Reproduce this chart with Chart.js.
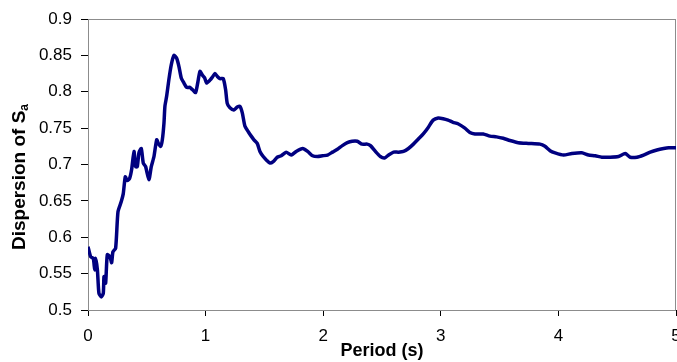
<!DOCTYPE html>
<html>
<head>
<meta charset="utf-8">
<script src="https://cdn.jsdelivr.net/npm/chart.js@4"></script>
<style>
  body { margin: 0; background: #fff; }
  canvas { display: block; }
</style>
</head>
<body>
<canvas id="myChart" width="677" height="362"></canvas>
<script>
// period (s) and dispersion values
const periods = [0.00, 0.023, 0.045, 0.057, 0.065, 0.08, 0.093, 0.113, 0.13, 0.136, 0.15, 0.164, 0.187, 0.201, 0.212, 0.235,
  0.255, 0.283, 0.30, 0.317, 0.334, 0.354, 0.371, 0.391, 0.405, 0.419, 0.433, 0.453, 0.47, 0.49, 0.518, 0.538, 0.561,
  0.584, 0.598, 0.618, 0.632, 0.646, 0.654, 0.669, 0.688, 0.708, 0.731, 0.754, 0.773, 0.793, 0.816, 0.839, 0.867,
  0.887, 0.915, 0.935, 0.952, 0.972, 0.992, 1.008, 1.037, 1.057, 1.08, 1.10, 1.122, 1.15, 1.17, 1.184, 1.207, 1.241,
  1.269, 1.292, 1.312, 1.334, 1.363, 1.388, 1.411, 1.439, 1.462, 1.49, 1.518, 1.547, 1.575, 1.609, 1.643, 1.685,
  1.728, 1.77, 1.826, 1.868, 1.91, 1.952, 1.994, 2.037, 2.079, 2.121, 2.163, 2.205, 2.247, 2.289, 2.331, 2.374,
  2.402, 2.444, 2.486, 2.522, 2.556, 2.598, 2.64, 2.683, 2.725, 2.767, 2.809, 2.851, 2.893, 2.935, 2.978, 3.02,
  3.062, 3.104, 3.146, 3.205, 3.247, 3.29, 3.361, 3.418, 3.474, 3.531, 3.588, 3.659, 3.744, 3.844, 3.886, 3.929,
  3.972, 4.043, 4.114, 4.199, 4.256, 4.313, 4.369, 4.44, 4.511, 4.568, 4.611, 4.668, 4.724, 4.781, 4.838, 4.895,
  4.938, 5.0];
const dispersion = [0.587, 0.573, 0.571, 0.555, 0.571, 0.555, 0.523, 0.518, 0.523, 0.546, 0.537, 0.576, 0.573, 0.565, 0.580, 0.585,
  0.635, 0.649, 0.660, 0.683, 0.678, 0.681, 0.693, 0.718, 0.697, 0.697, 0.716, 0.722, 0.702, 0.697, 0.679, 0.697, 0.711,
  0.734, 0.729, 0.725, 0.734, 0.757, 0.780, 0.794, 0.817, 0.837, 0.850, 0.846, 0.835, 0.819, 0.812, 0.806, 0.806,
  0.803, 0.799, 0.814, 0.828, 0.823, 0.819, 0.812, 0.816, 0.820, 0.825, 0.821, 0.818, 0.818, 0.803, 0.784, 0.778, 0.775,
  0.779, 0.780, 0.771, 0.753, 0.745, 0.739, 0.734, 0.729, 0.718, 0.711, 0.706, 0.702, 0.704, 0.710, 0.712, 0.717,
  0.713, 0.718, 0.722, 0.718, 0.712, 0.711, 0.712, 0.713, 0.717, 0.721, 0.726, 0.730, 0.732, 0.732, 0.728, 0.728,
  0.726, 0.718, 0.711, 0.709, 0.713, 0.717, 0.717, 0.718, 0.722, 0.728, 0.735, 0.742, 0.751, 0.761, 0.764, 0.763,
  0.761, 0.758, 0.756, 0.750, 0.744, 0.742, 0.742, 0.739, 0.738, 0.736, 0.733, 0.730, 0.729, 0.728, 0.725, 0.719,
  0.716, 0.713, 0.715, 0.716, 0.713, 0.712, 0.710, 0.710, 0.711, 0.715, 0.710, 0.710, 0.713, 0.717, 0.720, 0.722,
  0.723, 0.723];

const xTicks = [0, 1, 2, 3, 4, 5];
const yTicks = [0.5, 0.55, 0.6, 0.65, 0.7, 0.75, 0.8, 0.85, 0.9];
const yTitle = 'Dispersion of S';
const yTitleSub = 'a';
const xTitle = 'Period (s)';

const FONT = '"Liberation Sans", Arial, sans-serif';

const points = periods.map((p, i) => ({ x: p, y: dispersion[i] }));

// grey frame around plot area (top and right edges show)
const frame = {
  id: 'frame',
  beforeDatasetsDraw(chart) {
    const a = chart.chartArea, ctx = chart.ctx;
    ctx.save();
    ctx.strokeStyle = '#8c8c8c';
    ctx.lineWidth = 1;
    ctx.strokeRect(a.left + 0.5, a.top + 0.5, a.right - a.left - 1, a.bottom - a.top);
    ctx.restore();
  }
};

// y title with subscript
const yTitlePlugin = {
  id: 'yTitlePlugin',
  afterDraw(chart) {
    const ctx = chart.ctx;
    ctx.save();
    ctx.fillStyle = '#000';
    ctx.font = 'bold 19px ' + FONT;
    const w1 = ctx.measureText(yTitle).width;
    ctx.font = 'bold 12px ' + FONT;
    const w2 = ctx.measureText(yTitleSub).width;
    const total = w1 + w2;
    ctx.translate(20, 177);
    ctx.rotate(-Math.PI / 2);
    ctx.textBaseline = 'middle';
    ctx.textAlign = 'left';
    ctx.font = 'bold 19px ' + FONT;
    ctx.fillText(yTitle, -total / 2, 0);
    ctx.font = 'bold 12px ' + FONT;
    ctx.fillText(yTitleSub, -total / 2 + w1, 5);
    ctx.restore();
  }
};

const ctx = document.getElementById('myChart');
const myChart = new Chart(ctx, {
  type: 'line',
  data: {
    datasets: [{
      data: points,
      borderColor: '#000080',
      borderWidth: 3.5,
      pointRadius: 0,
      tension: 0.2,
      fill: false
    }]
  },
  options: {
    responsive: false,
    animation: false,
    events: [],
    layout: { padding: { top: 19, right: 1, left: 0, bottom: 0 } },
    plugins: {
      legend: { display: false },
      tooltip: { enabled: false }
    },
    scales: {
      x: {
        type: 'linear',
        min: 0,
        max: 5,
        afterBuildTicks(scale) { scale.ticks = xTicks.map(v => ({ value: v })); },
        afterFit(scale) { scale.height = 52; scale.paddingLeft = 0; scale.paddingRight = 0; },
        ticks: { color: '#000', font: { family: FONT, size: 17 }, padding: 10, maxRotation: 0 },
        grid: { drawOnChartArea: false, tickLength: 6, color: '#000' },
        border: { display: true, color: '#000', width: 1 },
        title: { display: true, text: xTitle, color: '#000', font: { family: FONT, size: 18, weight: 'bold' }, padding: { top: 0, bottom: 0 } }
      },
      y: {
        min: 0.5,
        max: 0.9,
        afterBuildTicks(scale) { scale.ticks = yTicks.map(v => ({ value: v })); },
        afterFit(scale) { scale.width = 88; scale.paddingTop = 0; scale.paddingBottom = 0; },
        ticks: {
          color: '#000',
          font: { family: FONT, size: 17 },
          padding: 9,
          callback: v => String(Number(v.toFixed(2)))
        },
        grid: { drawOnChartArea: false, tickLength: 7, color: '#000' },
        border: { display: true, color: '#000', width: 1 }
      }
    }
  },
  plugins: [frame, yTitlePlugin]
});
</script>
</body>
</html>
